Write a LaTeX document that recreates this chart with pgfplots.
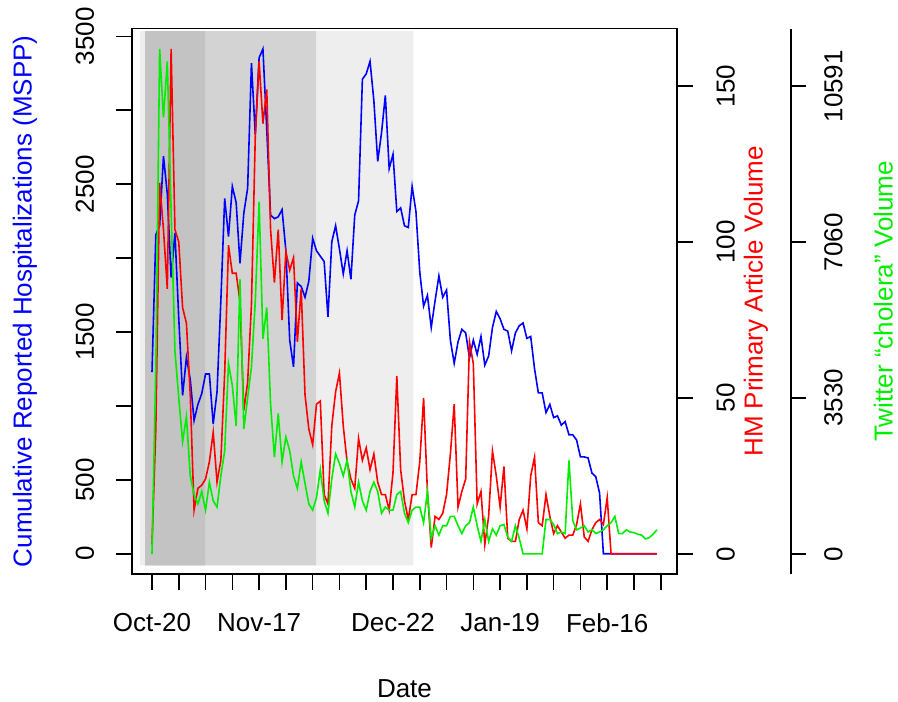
\documentclass[border=0pt]{standalone}
\usepackage{pgfplots}
\pgfplotsset{compat=1.18}
\usepackage{pgfplotstable}
\usepackage{fontspec}
\setmainfont{Liberation Sans}
\definecolor{rblue}{HTML}{0000FF}
\definecolor{rred}{HTML}{FF0000}
\definecolor{rgreen}{HTML}{00EE00}
\definecolor{shadeA}{HTML}{C3C3C3}
\definecolor{shadeB}{HTML}{D3D3D3}
\definecolor{shadeC}{HTML}{EEEEEE}

% Cumulative reported hospitalizations (MSPP), day index from Oct-20
\pgfplotstableread{
d v
0 1228
1 2158
2 2219
3 2690
4 2436
5 1868
6 2170
7 1591
8 1071
9 1329
10 1180
11 902
12 1010
13 1083
14 1216
15 1216
16 877
17 1095
18 1711
19 2404
20 2146
21 2485
22 2376
23 1965
24 2303
25 2473
26 3319
27 2835
28 3355
29 3415
30 2871
31 2291
32 2267
33 2279
34 2328
35 2050
36 1445
37 1264
38 1832
39 1808
40 1735
41 1844
42 2134
43 2050
44 2013
45 1977
46 1602
47 2110
48 2219
49 2062
50 1893
51 2050
52 1856
53 2291
54 2388
55 3210
56 3246
57 3331
58 3065
59 2654
60 2847
61 3101
62 2605
63 2702
64 2315
65 2340
66 2219
67 2207
68 2485
69 2315
70 1905
71 1675
72 1748
73 1530
74 1711
75 1880
76 1735
77 1784
78 1445
79 1288
80 1433
81 1518
82 1494
83 1324
84 1445
85 1349
86 1470
87 1276
88 1337
89 1530
90 1639
91 1590
92 1518
93 1506
94 1373
95 1494
96 1542
97 1561
98 1457
99 1470
100 1252
101 1088
102 1088
103 955
104 1010
105 921
106 933
107 870
108 894
109 805
110 805
111 769
112 655
113 655
114 648
115 546
116 522
117 411
118 0
119 0
120 0
121 0
122 0
123 0
124 0
125 0
126 0
127 0
128 0
129 0
130 0
131 0
132 0
}\bluedata

% HM primary article volume
\pgfplotstableread{
d v
0 3
1 40
2 119
3 104
4 85
5 162
6 104
7 100
8 79
9 74
10 51
11 14
12 21
13 22
14 24
15 29.5
16 39
17 23
18 30
19 58
20 99
21 90
22 90
23 81
24 46
25 55
26 80
27 134
28 158
29 138
30 149
31 104
32 87
33 104
34 75
35 97
36 91
37 95
38 68
39 85
40 51
41 40
42 35
43 48
44 49
45 19
46 16
47 41
48 52
49 58
50 41
51 29.5
52 24
53 21
54 37
55 30
56 34
57 27
58 32
59 23
60 19
61 19
62 14
63 26
64 57
65 27
66 17
67 11
68 19
69 19
70 29.5
71 50
72 20
73 2
74 12
75 11
76 13
77 19
78 32
79 48
80 15
81 20
82 24
83 68
84 61
85 16
86 20
87 3
88 12
89 33
90 25
91 15
92 28
93 5
94 4
95 4
96 11
97 14
98 8
99 25
100 31
101 10
102 9
103 19
104 12
105 6.5
106 9
107 7
108 5
109 6
110 6
111 9.4
112 16
113 5.4
114 4
115 7.7
116 10
117 11
118 9.4
119 18
120 0
121 0
122 0
123 0
124 0
125 0
126 0
127 0
128 0
129 0
130 0
131 0
132 0
}\reddata

% Twitter "cholera" volume, in the HM-axis scale (150 = 10591 tweets)
\pgfplotstableread{
d v
0 0
1 60
2 162
3 140
4 158
5 110
6 65
7 50
8 36
9 44
10 25
11 19
12 16
13 20
14 14
15 23
16 17
17 15
18 25
19 33
20 61
21 54
22 41
23 88
24 40
25 50
26 60
27 81
28 113
29 69
30 79
31 48
32 31
33 45
34 29.5
35 37.5
36 33
37 25
38 21
39 29.5
40 22.6
41 16
42 14
43 18
44 27
45 17
46 13
47 24
48 32
49 29
50 25
51 30
52 20
53 15
54 23
55 17
56 14
57 20
58 23
59 20
60 13
61 15
62 14
63 14
64 19
65 20
66 13
67 10
68 14
69 15
70 15
71 10
72 20
73 5
74 9
75 6
76 9
77 9
78 12
79 12
80 9
81 6.5
82 9
83 10
84 15
85 9
86 4
87 11
88 4
89 8
90 6
91 9
92 9.4
93 5.4
94 4
95 9
96 5
97 0
98 0
99 0
100 0
101 0
102 0
103 11
104 11
105 9.4
106 6.5
107 7
108 6.5
109 30
110 10.6
111 7.7
112 8.3
113 9
114 7
115 7.7
116 6.5
117 7
118 7.7
119 9
120 10
121 12
122 6.5
123 6.5
124 7.7
125 7
126 6.8
127 6.3
128 6
129 4.8
130 5.2
131 6.3
132 7.7
}\greendata

\begin{document}
\begin{tikzpicture}
\path[use as bounding box] (-98.85pt,-95.25pt) rectangle (574.65pt,430.5pt);
\pgfplotsset{
  every axis/.append style={
    scale only axis, width=409pt, height=409pt,
    xmin=-5.28, xmax=137.28,
    font=\fontsize{19.5}{23}\selectfont,
    tick style={line width=1.2pt, black},
    major tick length=11.7pt,
    tick align=outside,
    axis line style={line width=1.2pt},
    /pgf/number format/assume math mode=true,
    /pgf/number format/1000 sep={},
  }
}
\begin{axis}[
  at={(0,0)}, anchor=south west,
  ymin=-137, ymax=3552,
  xtick={0,7,...,133},
  xticklabels={Oct-20,,,,Nov-17,,,,,Dec-22,,,,Jan-19,,,,Feb-16,,},
  ytick={0,500,...,3500},
  yticklabels={0,500,,1500,,2500,,3500},
  xtick pos=lower, ytick pos=left,
  xticklabel style={anchor=center, yshift=-25pt},
  yticklabel style={xshift=-23.4pt, rotate=90, anchor=center},
  xlabel={Date},
  ylabel={Cumulative Reported Hospitalizations (MSPP)},
  every axis x label/.style={at={(rel axis cs:0.5,0)}, anchor=center, yshift=-85.7pt},
  every axis y label/.style={at={(rel axis cs:0,0.5)}, xshift=-80.1pt, rotate=90, anchor=center, text=rblue},
]
\addplot[fill=shadeC, draw=none] coordinates {(-3.1,-78) (68.3,-78) (68.3,3535) (-3.1,3535)} \closedcycle;
\addplot[fill=shadeB, draw=none] coordinates {(-1.8,-78) (42.9,-78) (42.9,3535) (-1.8,3535)} \closedcycle;
\addplot[fill=shadeA, draw=none] coordinates {(-1.8,-78) (13.9,-78) (13.9,3535) (-1.8,3535)} \closedcycle;
\addplot[rblue, line width=1.2pt] table[x=d, y=v] {\bluedata};
\end{axis}
\begin{axis}[
  at={(0,0)}, anchor=south west,
  ymin=-6.48, ymax=168.48,
  axis x line=none, axis y line*=right,
  ytick={0,50,100,150},
  yticklabel style={xshift=24.7pt, rotate=90, anchor=center},
  ylabel={HM Primary Article Volume},
  every axis y label/.style={at={(rel axis cs:1,0.5)}, xshift=59pt, rotate=90, anchor=center, text=rred},
]
\addplot[rred, line width=1.2pt] table[x=d, y=v] {\reddata};
\addplot[rgreen, line width=1.2pt] table[x=d, y=v] {\greendata};
\end{axis}
\begin{axis}[
  at={(85.2pt,0)}, anchor=south west,
  ymin=-6.48, ymax=168.48,
  axis x line=none, axis y line*=right,
  ytick={0,50,100,150},
  yticklabels={0,3530,7060,10591},
  yticklabel style={xshift=20.3pt, rotate=90, anchor=center},
  ylabel={Twitter “cholera” Volume},
  every axis y label/.style={at={(rel axis cs:1,0.5)}, xshift=69.45pt, rotate=90, anchor=center, text=rgreen},
]
\addplot[draw=none] coordinates {(0,0)};
\end{axis}
\end{tikzpicture}
\end{document}
